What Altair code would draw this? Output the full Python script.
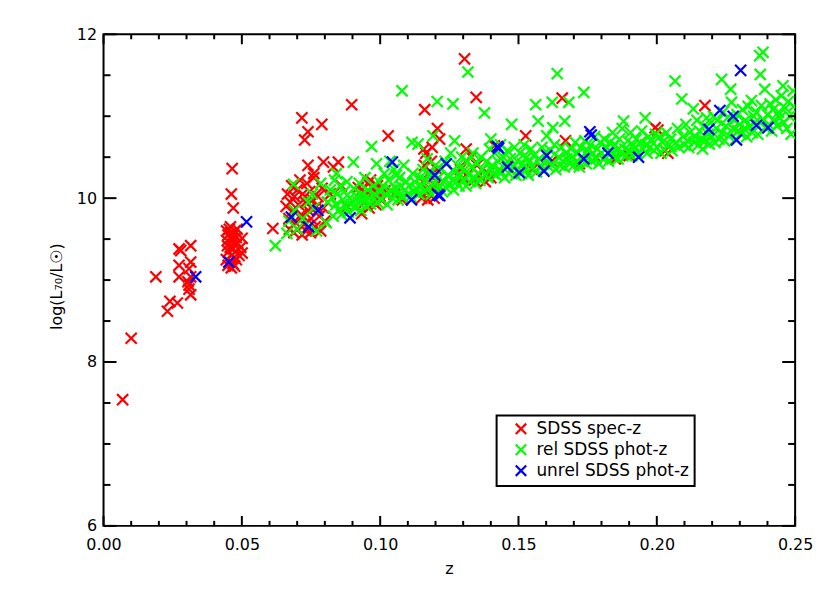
import altair as alt
import pandas as pd

# ---------------- data ----------------
red_points = [
    (0.0069, 7.54), (0.0100, 8.29), (0.0189, 9.04), (0.0231, 8.62), (0.0240, 8.74), (0.0267, 8.72),
    (0.0273, 9.04), (0.0273, 9.18), (0.0273, 9.38), (0.0279, 9.36), (0.0315, 9.42), (0.0315, 9.22),
    (0.0309, 9.14), (0.0315, 9.04), (0.0309, 8.94), (0.0309, 8.89), (0.0315, 8.82), (0.0305, 8.98),
    (0.0465, 10.36), (0.0462, 10.05), (0.0469, 9.88), (0.0501, 9.51), (0.0501, 9.33),
    (0.0445, 9.60), (0.0450, 9.55), (0.0455, 9.62), (0.0460, 9.58), (0.0465, 9.50), (0.0470, 9.45),
    (0.0475, 9.60), (0.0480, 9.52), (0.0448, 9.42), (0.0452, 9.35), (0.0458, 9.40), (0.0463, 9.30),
    (0.0468, 9.38), (0.0473, 9.28), (0.0478, 9.35), (0.0444, 9.25), (0.0450, 9.18), (0.0456, 9.22),
    (0.0462, 9.15), (0.0468, 9.20), (0.0474, 9.17), (0.0480, 9.25), (0.0485, 9.45), (0.0490, 9.30),
    (0.0447, 9.48), (0.0459, 9.65), (0.0471, 9.55), (0.0483, 9.62), (0.0496, 9.40),
    (0.0612, 9.63), (0.0717, 10.98), (0.0789, 10.90), (0.0739, 10.81), (0.0727, 10.71), (0.0739, 10.40),
    (0.0795, 10.44), (0.0849, 10.44), (0.0831, 10.38),
    (0.0660, 9.90), (0.0665, 10.05), (0.0670, 9.75), (0.0675, 9.95), (0.0680, 10.15), (0.0685, 9.85),
    (0.0690, 10.02), (0.0695, 9.70), (0.0700, 10.10), (0.0705, 9.92), (0.0710, 10.22), (0.0715, 9.80),
    (0.0720, 10.05), (0.0725, 9.68), (0.0730, 9.95), (0.0735, 10.18), (0.0740, 9.85), (0.0745, 10.08),
    (0.0750, 9.75), (0.0755, 9.98), (0.0760, 10.25), (0.0765, 9.65), (0.0770, 9.90), (0.0775, 10.02),
    (0.0780, 9.78), (0.0785, 9.60), (0.0790, 10.12), (0.0795, 9.88), (0.0800, 9.72), (0.0672, 9.62),
    (0.0688, 9.58), (0.0702, 9.62), (0.0718, 9.55), (0.0732, 9.60), (0.0748, 9.58), (0.0810, 9.95),
    (0.0820, 10.05), (0.0760, 10.30),
    (0.0897, 11.14), (0.1029, 10.76), (0.0921, 10.13), (0.0933, 9.81), (0.1017, 10.09), (0.1005, 9.97),
    (0.0860, 10.15), (0.0880, 9.90), (0.0950, 10.05), (0.0975, 9.95), (0.0990, 10.15), (0.1000, 10.02),
    (0.1050, 10.05), (0.1080, 9.98),
    (0.0935, 10.10), (0.0945, 9.95), (0.0955, 10.18), (0.0960, 9.88), (0.0970, 10.05), (0.0980, 10.12),
    (0.0985, 9.92), (0.0965, 10.22), (0.0940, 10.00),
    (0.1161, 11.08), (0.1207, 10.85), (0.1215, 10.72), (0.1150, 10.00), (0.1155, 10.20), (0.1160, 10.40),
    (0.1165, 10.55), (0.1170, 10.10), (0.1175, 10.30), (0.1180, 10.05), (0.1185, 10.45), (0.1190, 10.25),
    (0.1195, 10.00), (0.1200, 10.15), (0.1205, 10.35), (0.1210, 10.05), (0.1158, 10.60), (0.1172, 9.98),
    (0.1188, 10.62), (0.1198, 10.10),
    (0.1305, 11.70), (0.1347, 11.23), (0.1311, 10.60), (0.1413, 10.64), (0.1290, 10.35), (0.1300, 10.25),
    (0.1310, 10.45), (0.1320, 10.30), (0.1330, 10.50), (0.1340, 10.22), (0.1350, 10.40), (0.1360, 10.28),
    (0.1370, 10.35), (0.1380, 10.20), (0.1390, 10.30), (0.1400, 10.25),
    (0.1526, 10.76), (0.1658, 11.22), (0.1670, 10.70), (0.1850, 10.48), (0.1994, 10.86), (0.2174, 11.13),
    (0.2004, 10.83), (0.2030, 10.58), (0.2040, 10.55), (0.2294, 10.82), (0.1460, 10.40), (0.1550, 10.35),
    (0.1620, 10.45), (0.1720, 10.42), (0.1780, 10.50), (0.1900, 10.52),
]

green_points = [
    (0.0621, 9.42), (0.0663, 9.57), (0.0687, 10.17), (0.0670, 9.72), (0.0690, 9.85), (0.0700, 9.62),
    (0.0720, 9.75), (0.0740, 9.95), (0.0755, 10.05), (0.0770, 9.60), (0.0785, 10.18), (0.0760, 9.88),
    (0.0805, 9.70), (0.0810, 9.95), (0.0820, 10.10), (0.0830, 9.78), (0.0835, 10.22), (0.0840, 9.92),
    (0.0845, 10.05), (0.0850, 9.85), (0.0855, 10.15), (0.0860, 9.80), (0.0865, 9.98), (0.0870, 10.08),
    (0.0875, 9.90), (0.0880, 10.20), (0.0885, 9.83), (0.0890, 10.00), (0.0895, 9.92), (0.0903, 10.44),
    (0.0842, 10.30), (0.0826, 10.00),
    (0.0905, 10.12), (0.0910, 9.88), (0.0915, 10.02), (0.0920, 9.95), (0.0925, 10.18), (0.0930, 9.85),
    (0.0935, 10.05), (0.0940, 9.98), (0.0945, 10.25), (0.0950, 9.90), (0.0955, 10.10), (0.0960, 10.00),
    (0.0965, 9.93), (0.0969, 10.63), (0.0975, 10.15), (0.0980, 10.05), (0.0987, 10.42), (0.0990, 9.95),
    (0.0995, 10.20), (0.1000, 10.08),
    (0.1005, 9.98), (0.1010, 10.15), (0.1015, 10.30), (0.1020, 10.05), (0.1025, 9.92), (0.1030, 10.22),
    (0.1040, 10.10), (0.1045, 10.00), (0.1050, 10.35), (0.1055, 10.12), (0.1060, 10.05), (0.1065, 9.98),
    (0.1070, 10.25), (0.1075, 10.15), (0.1079, 11.31), (0.1080, 10.02), (0.1085, 10.40), (0.1090, 10.10),
    (0.1095, 10.20), (0.1100, 10.05), (0.1035, 10.45), (0.1058, 10.28),
    (0.1105, 10.15), (0.1110, 10.02), (0.1115, 10.68), (0.1118, 10.30), (0.1120, 10.08), (0.1125, 10.20),
    (0.1130, 10.12), (0.1137, 10.66), (0.1140, 10.05), (0.1145, 10.25), (0.1150, 10.15), (0.1155, 10.35),
    (0.1160, 10.08), (0.1165, 10.22), (0.1170, 10.48), (0.1175, 10.12), (0.1180, 10.30), (0.1185, 10.05),
    (0.1191, 10.76), (0.1195, 10.18), (0.1200, 10.40),
    (0.1206, 11.18), (0.1205, 10.10), (0.1210, 10.25), (0.1215, 10.15), (0.1220, 10.35), (0.1225, 10.08),
    (0.1230, 10.20), (0.1235, 10.45), (0.1240, 10.12), (0.1245, 10.28), (0.1250, 10.18), (0.1255, 10.55),
    (0.1260, 10.22), (0.1263, 11.15), (0.1265, 10.10), (0.1269, 10.70), (0.1270, 10.32), (0.1275, 10.20),
    (0.1280, 10.40), (0.1285, 10.15), (0.1290, 10.28), (0.1295, 10.50),
    (0.1300, 10.22), (0.1305, 10.35), (0.1310, 10.15), (0.1317, 11.54), (0.1315, 10.45), (0.1320, 10.28),
    (0.1325, 10.20), (0.1330, 10.38), (0.1335, 10.55), (0.1340, 10.25), (0.1345, 10.18), (0.1350, 10.42),
    (0.1355, 10.30), (0.1360, 10.22), (0.1365, 10.50), (0.1370, 10.35), (0.1377, 11.04), (0.1380, 10.28),
    (0.1385, 10.45), (0.1390, 10.25), (0.1395, 10.60), (0.1400, 10.72), (0.1402, 10.35),
    (0.1405, 10.40), (0.1410, 10.30), (0.1415, 10.55), (0.1420, 10.28), (0.1425, 10.45), (0.1430, 10.35),
    (0.1435, 10.65), (0.1440, 10.32), (0.1445, 10.50), (0.1450, 10.25), (0.1455, 10.42), (0.1460, 10.58),
    (0.1465, 10.30), (0.1470, 10.48), (0.1475, 10.90), (0.1480, 10.38), (0.1485, 10.62), (0.1490, 10.28),
    (0.1495, 10.45), (0.1500, 10.35),
    (0.1505, 10.55), (0.1510, 10.30), (0.1515, 10.42), (0.1520, 10.65), (0.1525, 10.35), (0.1530, 10.50),
    (0.1535, 10.28), (0.1540, 10.45), (0.1545, 10.60), (0.1550, 10.38), (0.1555, 10.52), (0.1562, 11.14),
    (0.1565, 10.32), (0.1571, 10.94), (0.1575, 10.48), (0.1580, 10.40), (0.1585, 10.62), (0.1590, 10.35),
    (0.1595, 10.55), (0.1602, 10.76),
    (0.1605, 10.45), (0.1610, 10.38), (0.1615, 10.58), (0.1622, 11.17), (0.1624, 10.86), (0.1625, 10.42),
    (0.1630, 10.65), (0.1635, 10.35), (0.1640, 11.52), (0.1645, 10.50), (0.1650, 10.40), (0.1655, 10.62),
    (0.1660, 10.45), (0.1667, 10.94), (0.1665, 10.38), (0.1670, 10.55), (0.1675, 10.48), (0.1682, 11.17),
    (0.1685, 10.42), (0.1690, 10.60), (0.1695, 10.50),
    (0.1700, 10.40), (0.1705, 10.68), (0.1710, 10.45), (0.1715, 10.55), (0.1720, 10.38), (0.1725, 10.62),
    (0.1730, 10.48), (0.1736, 11.29), (0.1740, 10.70), (0.1745, 10.42), (0.1750, 10.58), (0.1755, 10.50),
    (0.1760, 10.65), (0.1765, 10.45), (0.1770, 10.55), (0.1775, 10.75), (0.1780, 10.48), (0.1785, 10.60),
    (0.1790, 10.42), (0.1795, 10.68),
    (0.1800, 10.55), (0.1805, 10.48), (0.1810, 10.72), (0.1815, 10.50), (0.1820, 10.62), (0.1825, 10.45),
    (0.1830, 10.68), (0.1835, 10.55), (0.1840, 10.80), (0.1845, 10.50), (0.1850, 10.65), (0.1855, 10.58),
    (0.1860, 10.48), (0.1865, 10.72), (0.1870, 10.55), (0.1875, 10.85), (0.1880, 10.94), (0.1885, 10.60),
    (0.1890, 10.52), (0.1895, 10.70),
    (0.1900, 10.58), (0.1905, 10.80), (0.1910, 10.52), (0.1915, 10.65), (0.1920, 10.60), (0.1925, 10.72),
    (0.1930, 10.55), (0.1940, 10.68), (0.1945, 10.82), (0.1950, 10.60), (0.1958, 10.98), (0.1960, 10.65),
    (0.1965, 10.55), (0.1970, 10.75), (0.1975, 10.62), (0.1980, 10.70), (0.1990, 10.58), (0.1995, 10.78),
    (0.2000, 10.62), (0.2010, 10.75), (0.2015, 10.55), (0.2020, 10.68), (0.2025, 10.60), (0.2035, 10.80),
    (0.2045, 10.65), (0.2050, 10.72), (0.2055, 10.58), (0.2066, 11.43), (0.2070, 10.68), (0.2075, 10.85),
    (0.2080, 10.62), (0.2090, 11.21), (0.2095, 10.75), (0.2100, 10.65),
    (0.2105, 10.90), (0.2110, 10.70), (0.2115, 10.62), (0.2120, 10.80), (0.2132, 11.09), (0.2135, 10.68),
    (0.2140, 10.75), (0.2145, 10.95), (0.2150, 10.65), (0.2155, 10.82), (0.2160, 10.72), (0.2165, 10.60),
    (0.2170, 10.88), (0.2175, 10.70), (0.2180, 10.98), (0.2185, 10.78), (0.2190, 10.66), (0.2195, 10.92),
    (0.2200, 10.75), (0.2205, 11.00), (0.2210, 10.68), (0.2215, 10.85), (0.2220, 10.95), (0.2225, 10.72),
    (0.2234, 11.45), (0.2235, 10.80), (0.2240, 11.05), (0.2245, 10.70), (0.2250, 10.88), (0.2255, 10.98),
    (0.2260, 10.76), (0.2267, 11.33), (0.2270, 11.17), (0.2275, 10.85), (0.2280, 10.95), (0.2285, 10.72),
    (0.2290, 11.02), (0.2295, 10.82),
    (0.2300, 10.90), (0.2305, 10.78), (0.2310, 11.08), (0.2315, 10.85), (0.2320, 10.95), (0.2325, 10.75),
    (0.2330, 11.12), (0.2335, 10.88), (0.2342, 11.19), (0.2345, 10.80), (0.2350, 11.00), (0.2355, 10.92),
    (0.2360, 11.05), (0.2365, 10.78), (0.2372, 11.74), (0.2374, 11.51), (0.2378, 11.13), (0.2384, 11.78),
    (0.2385, 10.95), (0.2390, 11.33), (0.2395, 10.85),
    (0.2400, 11.02), (0.2405, 10.90), (0.2410, 11.15), (0.2415, 10.82), (0.2420, 11.08), (0.2425, 10.95),
    (0.2430, 11.20), (0.2435, 10.88), (0.2440, 11.05), (0.2445, 10.98), (0.2450, 11.25), (0.2456, 11.37),
    (0.2460, 10.92), (0.2465, 11.10), (0.2470, 10.85), (0.2475, 11.18), (0.2480, 11.00), (0.2485, 10.78),
    (0.2492, 11.31), (0.2495, 11.12),
]

blue_points = [
    (0.0333, 9.04), (0.0453, 9.22), (0.0517, 9.71), (0.0679, 9.77), (0.0741, 9.65), (0.0775, 9.85),
    (0.0891, 9.76), (0.1044, 10.44), (0.1113, 9.98), (0.1209, 10.04), (0.1215, 10.03), (0.1197, 10.28),
    (0.1239, 10.42), (0.1424, 10.63), (0.1428, 10.61), (0.1460, 10.38), (0.1503, 10.31), (0.1592, 10.33),
    (0.1602, 10.52), (0.1736, 10.48), (0.1758, 10.81), (0.1763, 10.77), (0.1823, 10.55), (0.1934, 10.50),
    (0.2188, 10.84), (0.2228, 11.07), (0.2276, 11.00), (0.2288, 10.71), (0.2303, 11.56), (0.2360, 10.89),
    (0.2402, 10.86),
]

categories = ["SDSS spec-z", "rel SDSS phot-z", "unrel SDSS phot-z"]
colors = ["#ff0000", "#00ff00", "#0000ff"]

x_major = [0.00, 0.05, 0.10, 0.15, 0.20, 0.25]
x_minor = [0.01, 0.02, 0.03, 0.04, 0.06, 0.07, 0.08, 0.09, 0.11, 0.12, 0.13, 0.14,
           0.16, 0.17, 0.18, 0.19, 0.21, 0.22, 0.23, 0.24]
y_major = [6, 8, 10, 12]
y_minor = [6.5, 7.0, 7.5, 8.5, 9.0, 9.5, 10.5, 11.0, 11.5]

# ---------------- build tables ----------------
rows = []
for cat, pts in zip(categories, [red_points, green_points, blue_points]):
    for z, l in pts:
        rows.append({"z": z, "logL": l, "src": cat})
df = pd.DataFrame(rows)

W, H = 695, 494
FONT = "DejaVu Sans"

xscale = alt.Scale(domain=[0, 0.25], nice=False, zero=False)
yscale = alt.Scale(domain=[6, 12], nice=False, zero=False)

xshape = "M-1,-1L1,1M-1,1L1,-1"

points = alt.Chart(df).mark_point(
    shape=xshape, filled=False, size=125, strokeWidth=2.2, opacity=1, clip=True
).encode(
    x=alt.X("z:Q", scale=xscale,
            axis=alt.Axis(values=x_major, format=".2f", ticks=False, grid=False, domain=False,
                          labelFlush=False, labelOverlap=False,
                          labelFont=FONT, labelFontSize=16, labelColor="black", labelPadding=11,
                          title="z", titleFont=FONT, titleFontSize=16, titleFontWeight="normal",
                          titleColor="black", titleX=347, titleY=43, titleAlign="center",
                          titleBaseline="middle")),
    y=alt.Y("logL:Q", scale=yscale,
            axis=alt.Axis(values=y_major, format="d", ticks=False, grid=False, domain=False,
                          labelFlush=False, labelOverlap=False,
                          labelFont=FONT, labelFontSize=16, labelColor="black", labelPadding=7,
                          title="log(L₇₀/L☉)", titleFont=FONT, titleFontSize=16,
                          titleFontWeight="normal", titleColor="black", titleAngle=270,
                          titleX=-47, titleY=253, titleAlign="center", titleBaseline="middle")),
    color=alt.Color("src:N", scale=alt.Scale(domain=categories, range=colors),
                    legend=alt.Legend(title=None, orient="none", legendX=395, legendY=383,
                                      symbolType=xshape, symbolSize=110, symbolStrokeWidth=2.2,
                                      symbolOffset=11, labelFont=FONT, labelFontSize=17,
                                      labelColor="black", labelOffset=7, rowPadding=0,
                                      padding=5, strokeColor="black")),
)

xmaj_df = pd.DataFrame({"v": x_major})
xmin_df = pd.DataFrame({"v": x_minor})
ymaj_df = pd.DataFrame({"v": y_major})
ymin_df = pd.DataFrame({"v": y_minor})

def xticks(data, length):
    base = alt.Chart(data).mark_rule(color="black", strokeWidth=2)
    bottom = base.encode(x=alt.X("v:Q", scale=xscale), y=alt.value(H), y2=alt.value(H - length))
    top = base.encode(x=alt.X("v:Q", scale=xscale), y=alt.value(0), y2=alt.value(length))
    return [bottom, top]

def yticks(data, length):
    base = alt.Chart(data).mark_rule(color="black", strokeWidth=2)
    left = base.encode(y=alt.Y("v:Q", scale=yscale), x=alt.value(0), x2=alt.value(length))
    right = base.encode(y=alt.Y("v:Q", scale=yscale), x=alt.value(W), x2=alt.value(W - length))
    return [left, right]

layers = [points] + xticks(xmaj_df, 10) + xticks(xmin_df, 5) + yticks(ymaj_df, 13) + yticks(ymin_df, 7)

chart = alt.layer(*layers).properties(
    width=W, height=H,
    autosize=alt.AutoSizeParams(type="none"),
    padding={"left": 96, "top": 25, "right": 27, "bottom": 58},
).configure_view(
    stroke="black", strokeWidth=2
).configure_legend(
    strokeWidth=2
)

chart.save("out.html", embed_options={"renderer": "svg", "actions": False})
